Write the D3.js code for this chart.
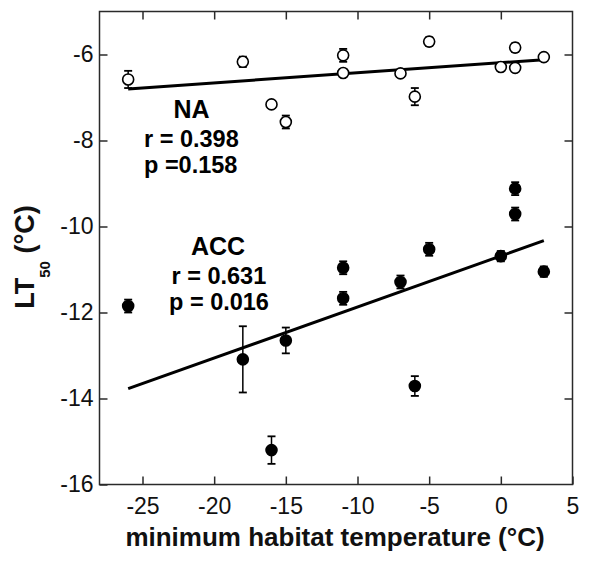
<!DOCTYPE html>
<html>
<head>
<meta charset="utf-8">
<script src="https://cdn.jsdelivr.net/npm/d3@7"></script>
<style>
  html, body { margin: 0; padding: 0; background: #fff; }
  svg { display: block; font-family: "Liberation Sans", Arial, sans-serif; }
</style>
</head>
<body>
<svg id="chart" width="600" height="569"></svg>
<script>
// ---- Data ----
const naX   = [-26, -18, -16, -15, -11, -11, -7, -6, -5, 0, 1, 1, 3];
const naY   = [-6.58, -6.17, -7.16, -7.57, -6.02, -6.43, -6.44, -6.98, -5.70, -6.29, -5.84, -6.31, -6.06];
const naErr = [0.20, 0.12, 0.08, 0.15, 0.15, 0.08, 0.08, 0.20, 0.10, 0.08, 0.10, 0.08, 0.08];

const accX   = [-26, -18, -16, -15, -11, -11, -7, -6, -5, 0, 1, 1, 3];
const accY   = [-11.85, -13.09, -15.20, -12.65, -10.96, -11.67, -11.29, -13.71, -10.53, -10.69, -9.12, -9.71, -11.05];
const accErr = [0.15, 0.77, 0.32, 0.30, 0.15, 0.15, 0.15, 0.23, 0.15, 0.12, 0.15, 0.15, 0.12];

const naFitX  = [-26, 3];
const naFitY  = [-6.80, -6.12];
const accFitX = [-26, 3];
const accFitY = [-13.77, -10.33];

const xTicks = [-25, -20, -15, -10, -5, 0, 5];
const yTicks = [-16, -14, -12, -10, -8, -6];

const naLabels  = ["NA", "r = 0.398", "p =0.158"];
const accLabels = ["ACC", "r = 0.631", "p = 0.016"];

const xTitle = "minimum habitat temperature (°C)";

// ---- Layout ----
const svg = d3.select("#chart");
const L = 99.5, R = 572.5, T = 11.5, B = 484.5;
const x = d3.scaleLinear().domain([-28, 5]).range([L, R]);
const y = d3.scaleLinear().domain([-16, -5]).range([B, T]);
const axisColor = "#2a2a2a";
const tickLen = 8;
const fmt = d => String(d);

// Frame
svg.append("rect").attr("x", L).attr("y", T).attr("width", R - L).attr("height", B - T)
  .attr("fill", "none").attr("stroke", axisColor).attr("stroke-width", 1.5);

// Axes with inward ticks on all sides
const axB = d3.axisBottom(x).tickValues(xTicks).tickSizeInner(-tickLen).tickSizeOuter(0).tickPadding(13).tickFormat(fmt);
const axT = d3.axisTop(x).tickValues(xTicks.filter(d => d < 5)).tickSizeInner(-tickLen).tickSizeOuter(0).tickFormat("");
const axL = d3.axisLeft(y).tickValues(yTicks).tickSizeInner(-tickLen).tickSizeOuter(0).tickPadding(6).tickFormat(fmt);
const axR = d3.axisRight(y).tickValues(yTicks.filter(d => d > -16)).tickSizeInner(-tickLen).tickSizeOuter(0).tickFormat("");

function styleAxis(g) {
  g.select(".domain").remove();
  g.selectAll(".tick line").attr("stroke", axisColor).attr("stroke-width", 1.5);
  g.selectAll(".tick text").attr("fill", "#111").style("font-size", "23px")
    .style("font-family", "'Liberation Sans', Arial, sans-serif");
}
svg.append("g").attr("transform", `translate(0,${B})`).call(axB).call(styleAxis);
svg.append("g").attr("transform", `translate(0,${T})`).call(axT).call(styleAxis);
svg.append("g").attr("transform", `translate(${L},0)`).call(axL).call(styleAxis);
svg.append("g").attr("transform", `translate(${R},0)`).call(axR).call(styleAxis);

// Regression lines
const line = d3.line().x(d => x(d[0])).y(d => y(d[1]));
svg.append("path").datum(d3.zip(naFitX, naFitY)).attr("d", line)
  .attr("fill", "none").attr("stroke", "#000").attr("stroke-width", 3);
svg.append("path").datum(d3.zip(accFitX, accFitY)).attr("d", line)
  .attr("fill", "none").attr("stroke", "#000").attr("stroke-width", 3);

// Points with error bars
function drawSeries(xs, ys, es, fill) {
  const data = d3.zip(xs, ys, es);
  const g = svg.append("g");
  const eb = g.selectAll(".eb").data(data).join("g");
  eb.append("line").attr("x1", d => x(d[0])).attr("x2", d => x(d[0]))
    .attr("y1", d => y(d[1] - d[2])).attr("y2", d => y(d[1] + d[2]))
    .attr("stroke", "#000").attr("stroke-width", 1.5);
  [1, -1].forEach(s => {
    eb.append("line").attr("x1", d => x(d[0]) - 4).attr("x2", d => x(d[0]) + 4)
      .attr("y1", d => y(d[1] + s * d[2])).attr("y2", d => y(d[1] + s * d[2]))
      .attr("stroke", "#000").attr("stroke-width", 1.8);
  });
  g.selectAll("circle").data(data).join("circle")
    .attr("cx", d => x(d[0])).attr("cy", d => y(d[1])).attr("r", 5.5)
    .attr("fill", fill).attr("stroke", "#000").attr("stroke-width", 1.6);
}
drawSeries(naX, naY, naErr, "#fff");
drawSeries(accX, accY, accErr, "#000");

// Annotations
function annot(labels, cx, x0, y0) {
  svg.append("text").attr("x", cx).attr("y", y0).attr("text-anchor", "middle")
    .attr("font-weight", "bold").attr("font-size", 25).text(labels[0]);
  svg.append("text").attr("x", x0[0]).attr("y", y0 + 29).attr("font-weight", "bold")
    .attr("font-size", 23.5).text(labels[1]);
  svg.append("text").attr("x", x0[1]).attr("y", y0 + 55).attr("font-weight", "bold")
    .attr("font-size", 23.5).text(labels[2]);
}
annot(naLabels, 191.5, [144, 144], 118);
annot(accLabels, 218, [171.5, 169], 255);

// Axis titles
svg.append("text").attr("x", 335).attr("y", 546).attr("text-anchor", "middle")
  .attr("font-weight", "bold").attr("font-size", 26).attr("fill", "#111").text(xTitle);

const yt = svg.append("text").attr("transform", "translate(34,257) rotate(-90)")
  .attr("text-anchor", "middle").attr("font-weight", "bold").attr("font-size", 27).attr("fill", "#111");
yt.append("tspan").text("LT");
yt.append("tspan").attr("font-size", 15).attr("dy", 16).text("50");
yt.append("tspan").attr("dy", -16).text(" (°C)");
</script>
</body>
</html>
